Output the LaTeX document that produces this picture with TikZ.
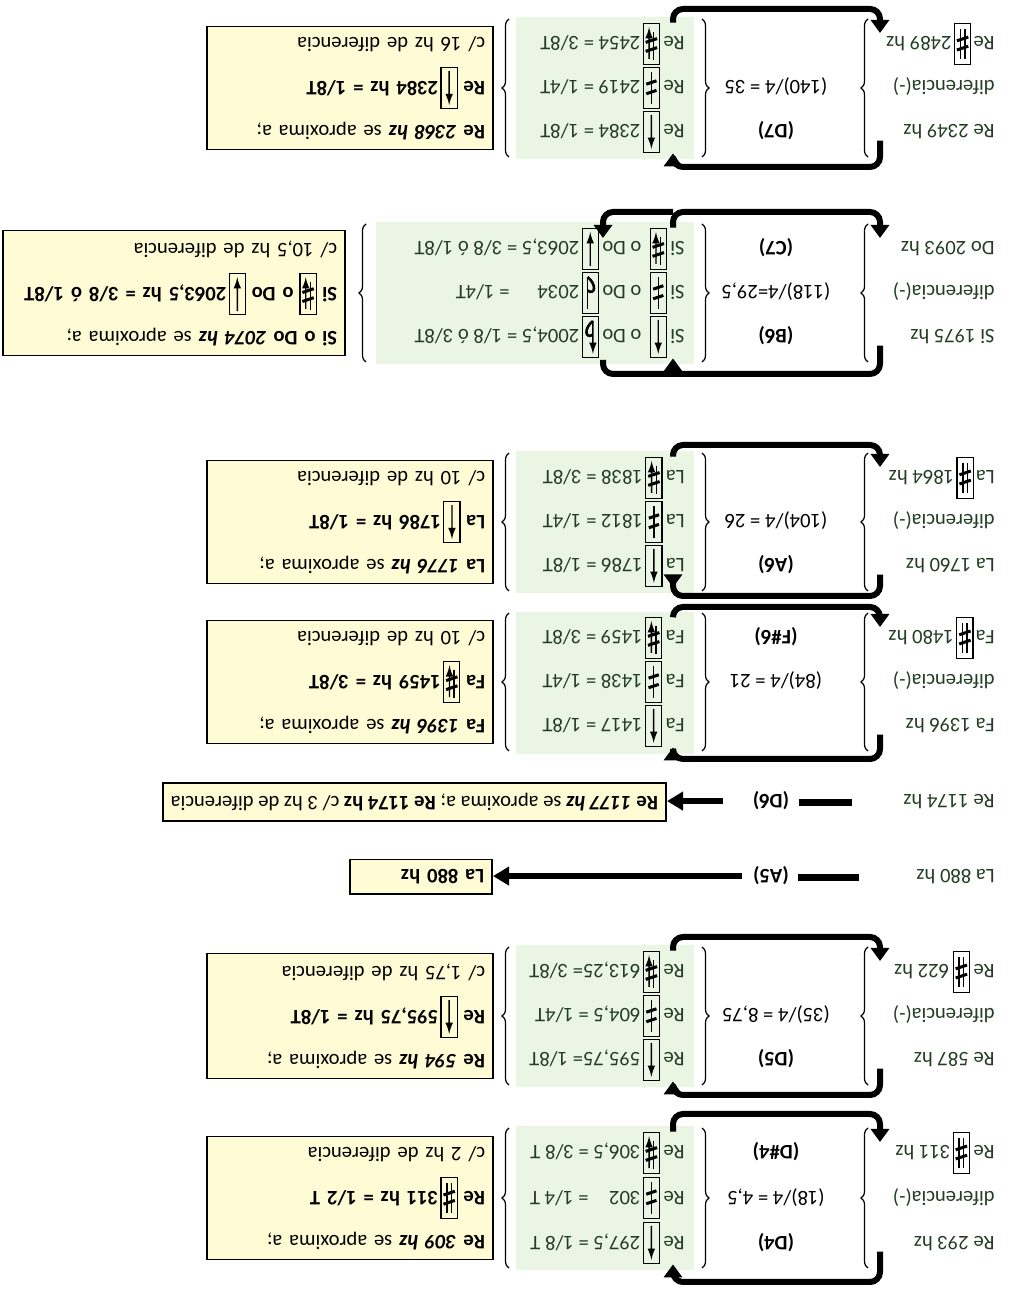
\documentclass[tikz,border=0pt]{standalone}
\usepackage{fontspec}
\setmainfont{Carlito}
\usepackage{pict2e}
\usetikzlibrary{arrows.meta,decorations.pathreplacing}

\definecolor{notefill}{RGB}{255,251,212}
\definecolor{colgreen}{RGB}{234,245,227}
\definecolor{inkgreen}{RGB}{36,62,36}

\newcommand\notefont{\fontsize{10.3}{22}\selectfont}

%% boxed accidentals (1/8, 1/4, 3/8, 1/2 tone)
\newcommand\symframe[1]{\raisebox{-6.5pt}{\setlength{\unitlength}{1pt}%
  \begin{picture}(7.5,20)\color{black}\linethickness{0.6pt}%
  \put(0,0){\framebox(7.5,20){}}#1\end{picture}}}
\newcommand\symUp{\symframe{\linethickness{0.7pt}\put(3.75,1.5){\vector(0,1){17}}}}
\newcommand\symDown{\symframe{\linethickness{0.7pt}\put(3.75,18.5){\vector(0,-1){17}}}}
\newcommand\symHalf{\symframe{\linethickness{0.7pt}\put(3.75,2){\line(0,1){16}}%
  \linethickness{1.5pt}\put(1.2,6.4){\line(3,1){5.1}}\put(1.2,11.2){\line(3,1){5.1}}}}
\newcommand\symSharp{\symframe{\linethickness{0.7pt}\put(2.6,2.5){\line(0,1){15}}\put(4.9,2.5){\line(0,1){15}}%
  \linethickness{1.5pt}\put(0.9,6.5){\line(3,1){5.7}}\put(0.9,11.1){\line(3,1){5.7}}}}
\newcommand\symSharpDn{\symframe{\linethickness{0.7pt}\put(2.6,4){\line(0,1){14}}\put(4.9,17.5){\vector(0,-1){16}}%
  \linethickness{1.5pt}\put(0.9,7.3){\line(3,1){5.7}}\put(0.9,11.8){\line(3,1){5.7}}}}
\newcommand\symFlatUp{\symframe{\linethickness{0.7pt}\put(2.4,2){\vector(0,1){16.5}}%
  \linethickness{1.3pt}\cbezier(2.4,8.8)(6.2,11.3)(7.2,5.8)(2.4,2)}}
\newcommand\symHalfFlat{\symframe{\linethickness{0.7pt}\put(5.1,2){\line(0,1){16}}%
  \linethickness{1.3pt}\cbezier(5.1,8.8)(1.3,11.3)(0.3,5.8)(5.1,2)}}

\begin{document}
\begin{tikzpicture}[x=0.5pt, y=0.5pt,
  lefttxt/.style  = {anchor=base west, inner sep=0.5pt, text=inkgreen, font=\notefont},
  greentxt/.style = {anchor=base west, inner sep=0.5pt, text=inkgreen, font=\notefont},
  midtxt/.style   = {anchor=base, inner sep=0.5pt, font=\notefont},
  midlbl/.style   = {anchor=base, inner sep=0.5pt, font=\notefont\bfseries},
  notebox/.style  = {rectangle, draw=black, line width=0.8pt, fill=notefill,
                     anchor=west, align=left, inner xsep=4pt, inner ysep=5pt,
                     font=\notefont},
  brc/.style      = {decorate, decoration={brace, amplitude=3.5pt}, line width=0.6pt},
  looparr/.style  = {line width=3pt, rounded corners=5pt,
                     -{Triangle[length=6.5pt,width=9pt]}},
  loopline/.style = {line width=3pt, rounded corners=5pt},
  fatbar/.style   = {line width=3.5pt},
  fatarr/.style   = {line width=2.8pt, -{Triangle[length=8pt,width=9pt]}},
  tint/.style     = {fill=colgreen},
]

\fill[white] (0,0) rectangle (1016,1290);
\useasboundingbox (0,0) rectangle (1016,1290);

%% the page is printed upside down
\begin{scope}[shift={(1016,1290)}, rotate=180, transform shape]

\coordinate (legL) at (136,0);
\coordinate (legR) at (343,0);
\coordinate (legB) at (413,0);

%% green column backgrounds
\fill[tint] (322,1126) rectangle (500,1270);
\fill[tint] (322,945)  rectangle (500,1087);
\fill[tint] (322,612)  rectangle (500,754);
\fill[tint] (322,451)  rectangle (500,593);
\fill[tint] (322,222)  rectangle (640,364);
\fill[tint] (322,17)   rectangle (500,159);

%%═══════════════════════════════════════════════════════════
%% D4
%%═══════════════════════════════════════════════════════════
\node[lefttxt] (d4l1) at (20,1236) {Re 293 hz};
\node[lefttxt] (d4l2) at (20,1191) {diferencia(-)};
\node[lefttxt] (d4l3) at (20,1146) {Re~\symSharp\,311 hz};
\node[midlbl]  (d4m1) at (240,1236) {(D4)};
\node[midtxt]  (d4m2) at (240,1191) {(18)/4 = 4,5};
\node[midlbl]  (d4m3) at (240,1146) {(D\#4)};
\node[greentxt] (d4g1) at (330,1236) {Re~\symUp\,297,5 = 1/8 T};
\node[greentxt] (d4g2) at (330,1191) {Re~\symHalf\,302\quad = 1/4 T};
\node[greentxt] (d4g3) at (330,1146) {Re~\symSharpDn\,306,5 = 3/8 T};
\draw[brc] (148,1268) -- (148,1128);
\draw[brc] (314,1128) -- (314,1268);
\draw[brc] (507,1268) -- (507,1128);
\node[notebox, text width=135pt] (d4note) at (522,1198)
  {\textbf{Re \textit{309 hz}} se aproxima a;\\
   \textbf{Re~\symSharp\,311 hz = 1/2 T}\\
   c/ 2 hz de diferencia};
\draw[looparr] (d4l1.north -| legL) -- (136,1282) -- (343,1282) -- (d4g1.north -| legR);
\draw[looparr] (d4g3.south -| legR) -- (343,1114) -- (136,1114) -- ([yshift=-2pt]d4l3.base -| legL);

%%═══════════════════════════════════════════════════════════
%% D5
%%═══════════════════════════════════════════════════════════
\node[lefttxt] (d5l1) at (20,1053) {Re 587 hz};
\node[lefttxt] (d5l2) at (20,1009) {diferencia(-)};
\node[lefttxt] (d5l3) at (20,965)  {Re~\symSharp\ 622 hz};
\node[midlbl]  (d5m1) at (240,1053) {(D5)};
\node[midtxt]  (d5m2) at (240,1009) {(35)/4 = 8,75};
\node[greentxt] (d5g1) at (330,1053) {Re~\symUp\,595,75= 1/8T};
\node[greentxt] (d5g2) at (330,1009) {Re~\symHalf\,604,5 = 1/4T};
\node[greentxt] (d5g3) at (330,965)  {Re~\symSharpDn\,613,25= 3/8T};
\draw[brc] (148,1085) -- (148,947);
\draw[brc] (314,947) -- (314,1085);
\draw[brc] (507,1085) -- (507,947);
\node[notebox, text width=135pt] (d5note) at (522,1016)
  {\textbf{Re \textit{594 hz}} se aproxima a;\\
   \textbf{Re~\symUp\,595,75 hz = 1/8T}\\
   c/ 1,75 hz de diferencia};
\draw[looparr] (d5l1.north -| legL) -- (136,1095) -- (343,1095) -- (d5g1.north -| legR);
\draw[looparr] (d5g3.south -| legR) -- (343,937) -- (136,937) -- ([yshift=-2pt]d5l3.base -| legL);

%%═══════════════════════════════════════════════════════════
%% A5 and D6
%%═══════════════════════════════════════════════════════════
\node[lefttxt] (a5l) at (20,870) {La 880 hz};
\node[midlbl]  (a5m) at (245,870) {(A5)};
\node[notebox, text width=63pt] (a5note) at (523,877) {\textbf{La 880 hz}};
\draw[fatbar, shorten <=28pt, shorten >=4pt] (a5l.east) -- (a5l.east -| a5m.west);
\draw[fatarr, shorten <=5pt] (a5m.east) -- (a5m.east -| a5note.west);

\node[lefttxt] (d6l) at (20,795) {Re 1174 hz};
\node[midlbl]  (d6m) at (245,795) {(D6)};
\node[notebox] (d6note) at (349,802)
  {\textbf{Re \textit{1177 hz}} se aproxima a; \textbf{Re 1174 hz} c/ 3 hz de diferencia};
\draw[fatbar, shorten <=25pt, shorten >=4pt] (d6l.east) -- (d6l.east -| d6m.west);
\draw[fatarr, shorten <=14pt] (d6m.east) -- (d6m.east -| d6note.west);

%%═══════════════════════════════════════════════════════════
%% F#6
%%═══════════════════════════════════════════════════════════
\node[lefttxt] (f6l1) at (20,719) {Fa 1396 hz};
\node[lefttxt] (f6l2) at (20,675) {diferencia(-)};
\node[lefttxt] (f6l3) at (20,631) {Fa\,\symSharp\,1480 hz};
\node[midtxt]  (f6m2) at (240,675) {(84)/4 = 21};
\node[midlbl]  (f6m3) at (240,631) {(F\#6)};
\node[greentxt] (f6g1) at (330,719) {Fa~\symUp\,1417 = 1/8T};
\node[greentxt] (f6g2) at (330,675) {Fa~\symHalf\,1438 = 1/4T};
\node[greentxt] (f6g3) at (330,631) {Fa~\symSharpDn\,1459 = 3/8T};
\draw[brc] (148,751) -- (148,613);
\draw[brc] (314,613) -- (314,751);
\draw[brc] (507,751) -- (507,613);
\node[notebox, text width=135pt] (f6note) at (522,682)
  {\textbf{Fa \textit{1396 hz}} se aproxima a;\\
   \textbf{Fa~\symSharpDn\,1459 hz = 3/8T}\\
   c/ 10 hz de diferencia};
\draw[looparr] (f6l1.north -| legL) -- (136,759) -- (343,759) -- (f6g1.north -| legR);
\draw[looparr] (f6g3.south -| legR) -- (343,607) -- (136,607) -- ([yshift=-2pt]f6l3.base -| legL);

%%═══════════════════════════════════════════════════════════
%% A6
%%═══════════════════════════════════════════════════════════
\node[lefttxt] (a6l1) at (20,559) {La 1760 hz};
\node[lefttxt] (a6l2) at (20,515) {diferencia(-)};
\node[lefttxt] (a6l3) at (20,471) {La\,\symSharp\,1864 hz};
\node[midlbl]  (a6m1) at (240,559) {(A6)};
\node[midtxt]  (a6m2) at (240,515) {(104)/4 = 26};
\node[greentxt] (a6g1) at (330,559) {La~\symUp\,1786 = 1/8T};
\node[greentxt] (a6g2) at (330,515) {La~\symHalf\,1812 = 1/4T};
\node[greentxt] (a6g3) at (330,471) {La~\symSharpDn\,1838 = 3/8T};
\draw[brc] (148,591) -- (148,453);
\draw[brc] (314,453) -- (314,591);
\draw[brc] (507,591) -- (507,453);
\node[notebox, text width=135pt] (a6note) at (522,522)
  {\textbf{La \textit{1776 hz}} se aproxima a;\\
   \textbf{La~\symUp\,1786 hz = 1/8T}\\
   c/ 10 hz de diferencia};
\draw[looparr] (a6l1.north -| legL) -- (136,596) -- (343,596) -- (a6g1.north -| legR);
\draw[looparr] (a6g3.south -| legR) -- (343,445) -- (136,445) -- ([yshift=-2pt]a6l3.base -| legL);

%%═══════════════════════════════════════════════════════════
%% B6 / C7
%%═══════════════════════════════════════════════════════════
\node[lefttxt] (b6l1) at (20,330) {Si 1975 hz};
\node[lefttxt] (b6l2) at (20,286) {diferencia(-)};
\node[lefttxt] (b6l3) at (20,242) {Do 2093 hz};
\node[midlbl]  (b6m1) at (240,330) {(B6)};
\node[midtxt]  (b6m2) at (240,286) {(118)/4=29,5};
\node[midlbl]  (b6m3) at (240,242) {(C7)};
\node[greentxt] (b6g1) at (330,330) {Si~\symUp\ \ o Do~\symFlatUp\,2004,5 = 1/8 ó 3/8T};
\node[greentxt] (b6g2) at (330,286) {Si~\symHalf\ \ o Do~\symHalfFlat\,2034\hspace{14pt}= 1/4T};
\node[greentxt] (b6g3) at (330,242) {Si~\symSharpDn\ \ o Do~\symDown\,2063,5 = 3/8 ó 1/8T};
\draw[brc] (148,362) -- (148,224);
\draw[brc] (314,224) -- (314,362);
\draw[brc] (650,362) -- (650,224);
\node[notebox, text width=163pt] (b6note) at (670,293)
  {\textbf{Si o Do \textit{2074 hz}} se aproxima a;\\
   \textbf{Si~\symSharpDn\ o Do~\symDown\,2063,5 hz = 3/8 ó 1/8T}\\
   c/ 10,5 hz de diferencia};
\coordinate (b6top) at (343,374);
\coordinate (b6bot) at (343,212);
\draw[loopline] (b6l1.north -| legL) -- (136,374) -- (413,374) -- (413,360);
\draw[looparr] (b6top) -- (b6g1.north -| legR);
\draw[looparr] (b6g3.south -| legR) -- (b6bot) -- (136,212) -- ([yshift=-2pt]b6l3.base -| legL);
\draw[looparr] (b6bot) -- (413,212) -- ([yshift=-2pt]b6g3.base -| legB);

%%═══════════════════════════════════════════════════════════
%% D7
%%═══════════════════════════════════════════════════════════
\node[lefttxt] (d7l1) at (20,125) {Re 2349 hz};
\node[lefttxt] (d7l2) at (20,81)  {diferencia(-)};
\node[lefttxt] (d7l3) at (20,37)  {Re\,\symSharp\,2489 hz};
\node[midlbl]  (d7m1) at (240,125) {(D7)};
\node[midtxt]  (d7m2) at (240,81)  {(140)/4 = 35};
\node[greentxt] (d7g1) at (330,125) {Re~\symUp\,2384 = 1/8T};
\node[greentxt] (d7g2) at (330,81)  {Re~\symHalf\,2419 = 1/4T};
\node[greentxt] (d7g3) at (330,37)  {Re~\symSharpDn\,2454 = 3/8T};
\draw[brc] (148,157) -- (148,19);
\draw[brc] (314,19) -- (314,157);
\draw[brc] (507,157) -- (507,19);
\node[notebox, text width=135pt] (d7note) at (522,88)
  {\textbf{Re \textit{2368 hz}} se aproxima a;\\
   \textbf{Re~\symUp\,2384 hz = 1/8T}\\
   c/ 16 hz de diferencia};
\draw[looparr] (d7l1.north -| legL) -- (136,167) -- (343,167) -- (d7g1.north -| legR);
\draw[looparr] (d7g3.south -| legR) -- (343,9) -- (136,9) -- ([yshift=-2pt]d7l3.base -| legL);

\end{scope}
\end{tikzpicture}
\end{document}
